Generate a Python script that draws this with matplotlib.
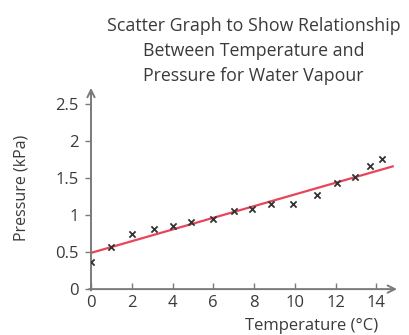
import matplotlib
matplotlib.use("Agg")
import matplotlib.pyplot as plt

plt.rcParams['font.family'] = ['Open Sans', 'DejaVu Sans']

temperature = [0, 1, 2, 3.1, 4, 4.9, 6, 7, 7.9, 8.85, 9.9, 11.1, 12.05, 12.95, 13.7, 14.3]
pressure = [0.37, 0.57, 0.74, 0.81, 0.855, 0.91, 0.95, 1.05, 1.08, 1.15, 1.15, 1.27, 1.44, 1.51, 1.66, 1.76]
fit_x = [0, 14.8]
fit_y = [0.49, 1.66]
x_ticks = [0, 2, 4, 6, 8, 10, 12, 14]
y_ticks = [0, 0.5, 1, 1.5, 2, 2.5]
y_tick_labels = ['0', '0.5', '1', '1.5', '2', '2.5']

fig = plt.figure(figsize=(4.09, 3.35), dpi=100)
ax = fig.add_axes([0.2225, 0.137, 0.755, 0.609])
ax.set_xlim(0, 15.15)
ax.set_ylim(0, 2.76)

axc = '#7a7a7a'
txt = '#3a3a3a'
for s in ax.spines.values():
    s.set_visible(False)
ax.annotate('', xy=(1.0, 0), xytext=(-0.015, 0), xycoords='axes fraction',
            arrowprops=dict(arrowstyle='->', color=axc, lw=1.4, mutation_scale=13))
ax.annotate('', xy=(0, 1.0), xytext=(0, -0.02), xycoords='axes fraction',
            arrowprops=dict(arrowstyle='->', color=axc, lw=1.4, mutation_scale=13))

ax.plot(fit_x, fit_y, color='#e8455a', lw=1.6, zorder=2)
ax.scatter(temperature, pressure, marker='x', color='#333333', s=20, lw=1.3, zorder=3)

ax.set_xticks(x_ticks)
ax.set_yticks(y_ticks)
ax.set_yticklabels(y_tick_labels)
ax.tick_params(axis='x', direction='in', length=4, width=1, color=axc, labelsize=12, labelcolor=txt, pad=4)
ax.tick_params(axis='y', direction='out', length=4, width=1, color=axc, labelsize=12, labelcolor=txt, pad=5)

fig.text(0.62, 0.95, 'Scatter Graph to Show Relationship\nBetween Temperature and\nPressure for Water Vapour',
         ha='center', va='top', fontsize=12.8, color=txt, linespacing=1.5)
fig.text(0.053, 0.44, 'Pressure (kPa)', rotation=90, ha='center', va='center', fontsize=11.5, color=txt)
fig.text(0.925, 0.004, 'Temperature (°C)', ha='right', va='bottom', fontsize=12, color=txt)

fig.savefig('out.png', dpi=100)
